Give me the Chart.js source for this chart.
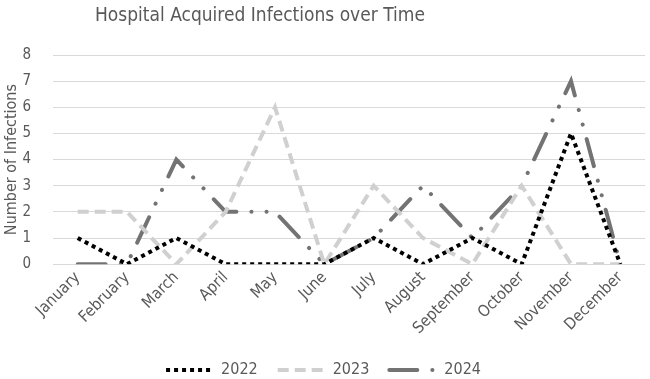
<!DOCTYPE html>
<html>
<head>
<meta charset="utf-8">
<script src="https://cdn.jsdelivr.net/npm/chart.js@4/dist/chart.umd.min.js"></script>
<style>
  body { margin: 0; background: #fff; }
  #wrap { position: relative; width: 650px; height: 379px; }
  #title { position: absolute; left: 95px; top: 3px; font: 19px 'DejaVu Sans Condensed', sans-serif; color: #595959; white-space: nowrap; }
</style>
</head>
<body>
<div id="wrap">
  <canvas id="chart" width="650" height="379"></canvas>
  <div id="title">Hospital Acquired Infections over Time</div>
</div>
<script>
const months = ['January','February','March','April','May','June','July','August','September','October','November','December'];
const y2022 = [1, 0, 1, 0, 0, 0, 1, 0, 1, 0, 5, 0];
const y2023 = [2, 2, 0, 2, 6, 0, 3, 1, 0, 3, 0, 0];
const y2024 = [0, 0, 4, 2, 2, 0, 1, 3, 1, 3, 7, 0];
const yTicks = [0, 1, 2, 3, 4, 5, 6, 7, 8];

const font = "'DejaVu Sans Condensed', sans-serif";
const textColor = '#595959';

const chart = new Chart(document.getElementById('chart').getContext('2d'), {
  type: 'line',
  data: {
    labels: months,
    datasets: [
      { label: '2022', data: y2022, borderColor: '#000000', backgroundColor: '#000000', borderWidth: 4, borderDash: [4, 4], borderCapStyle: 'butt' },
      { label: '2023', data: y2023, borderColor: '#d0d0d0', backgroundColor: '#d0d0d0', borderWidth: 4, borderDash: [11, 6], borderCapStyle: 'butt' },
      { label: '2024', data: y2024, borderColor: '#737373', backgroundColor: '#737373', borderWidth: 4, borderDash: [28, 15, 0.1, 15, 0.1, 15], borderCapStyle: 'round' }
    ]
  },
  options: {
    responsive: false,
    animation: false,
    layout: { padding: { top: 55, right: 5, left: 2, bottom: -9 } },
    elements: { line: { tension: 0 }, point: { radius: 0, hoverRadius: 0 } },
    scales: {
      x: {
        offset: true,
        grid: { display: false, drawTicks: false },
        border: { display: false },
        ticks: { color: textColor, font: { family: font, size: 16 }, minRotation: 45, maxRotation: 45, padding: 4 },
        afterFit: s => { s.paddingLeft = 0; s.paddingRight = 0; }
      },
      y: {
        min: 0, max: 8,
        afterBuildTicks: axis => { axis.ticks = yTicks.map(v => ({ value: v })); },
        grid: { color: '#d9d9d9', lineWidth: 1, drawTicks: false },
        border: { display: false },
        ticks: { color: textColor, font: { family: font, size: 15 }, padding: 22 },
        title: { display: true, text: 'Number of Infections', color: textColor, font: { family: font, size: 16 }, padding: 0 },
        afterFit: s => { s.width = 51; }
      }
    },
    plugins: {
      legend: {
        position: 'bottom',
        labels: {
          usePointStyle: true,
          pointStyle: 'line',
          pointStyleWidth: 47,
          boxHeight: 15,
          color: textColor,
          font: { family: font, size: 16 },
          padding: 20,
          generateLabels: c => Chart.defaults.plugins.legend.labels.generateLabels(c).map(item => {
            const ds = c.data.datasets[item.datasetIndex];
            item.lineDash = ds.borderDash;
            item.lineCap = ds.borderCapStyle;
            return item;
          })
        }
      },
      tooltip: { enabled: false }
    }
  }
});
</script>
</body>
</html>
